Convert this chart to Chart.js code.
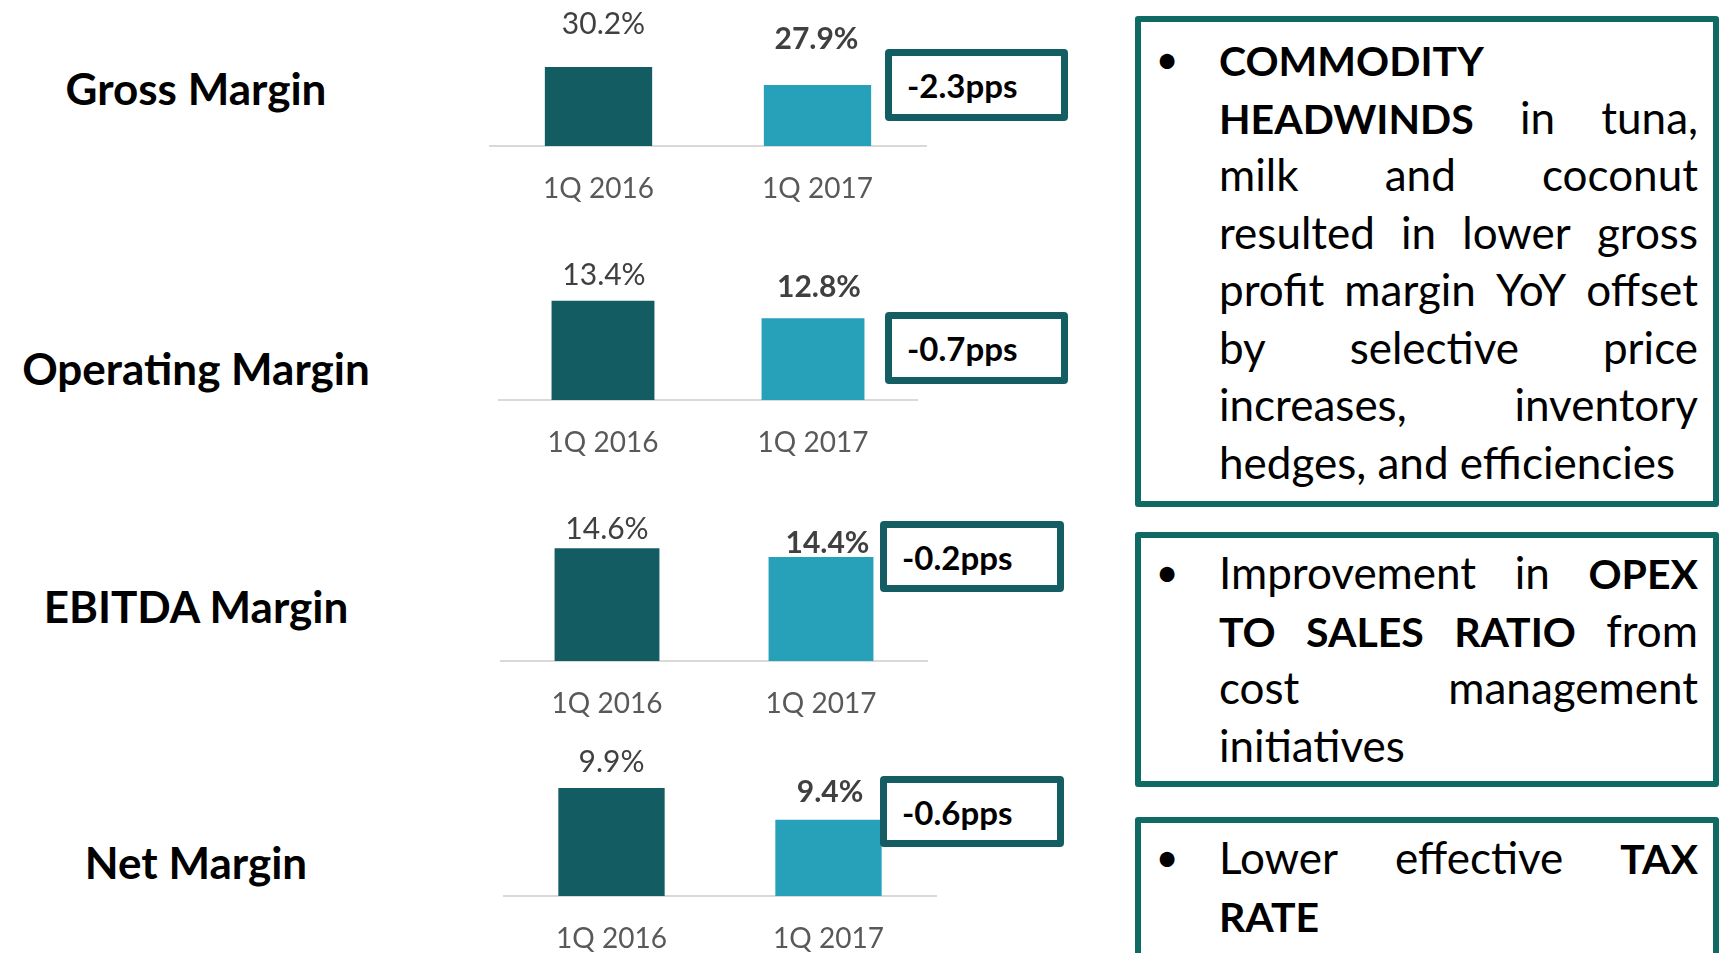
<!DOCTYPE html>
<html>
<head>
<meta charset="utf-8">
<script src="https://cdn.jsdelivr.net/npm/chart.js@4.4.0/dist/chart.umd.min.js"></script>
<style>
  body { margin: 0; width: 1719px; height: 953px; background: #fff; overflow: hidden; position: relative; font-family: Lato, sans-serif; }
  .title { position: absolute; left: 0; width: 392px; text-align: center; font-weight: bold; font-size: 44px; line-height: 1; color: #000; white-space: nowrap; }
  canvas.panel { position: absolute; }
  .pps { position: absolute; box-sizing: border-box; border: 7px solid #145e63; border-radius: 4px; background: #fff;
         font-weight: bold; font-size: 33px; color: #000; display: flex; align-items: center; padding-left: 15px; }
  .note { position: absolute; left: 1135px; width: 584px; box-sizing: border-box; border: 6px solid #0e6a62; border-radius: 3px; }
  .note .txt { position: absolute; left: 78px; width: 479px; font-size: 44px; line-height: 57.5px; color: #000; }
  .note b { font-size: 41px; }
  .note .bullet { position: absolute; left: -67px; width: 30px; text-align: center; font-size: 40px; }
  .note .jl { display: flex; justify-content: space-between; align-items: baseline; white-space: nowrap; position: relative; height: 57.5px; }
  .note .ll { white-space: nowrap; position: relative; height: 57.5px; }
</style>
</head>
<body>
<div id="titles"></div>
<div id="charts"></div>
<div id="boxes"></div>

<div class="note" style="top:16px; height:491px;">
  <div class="txt" style="top:9px;">
    <div class="ll"><span class="bullet">•</span><b>COMMODITY</b></div>
    <div class="jl"><b>HEADWINDS</b><span>in</span><span>tuna,</span></div>
    <div class="jl"><span>milk</span><span>and</span><span>coconut</span></div>
    <div class="jl"><span>resulted</span><span>in</span><span>lower</span><span>gross</span></div>
    <div class="jl"><span>profit</span><span>margin</span><span>YoY</span><span>offset</span></div>
    <div class="jl"><span>by</span><span>selective</span><span>price</span></div>
    <div class="jl"><span>increases,</span><span>inventory</span></div>
    <div class="ll">hedges, and efficiencies</div>
  </div>
</div>
<div class="note" style="top:532px; height:255px;">
  <div class="txt" style="top:6px;">
    <div class="jl"><span class="bullet">•</span><span>Improvement</span><span>in</span><b>OPEX</b></div>
    <div class="jl"><b>TO</b><b>SALES</b><b>RATIO</b><span>from</span></div>
    <div class="jl"><span>cost</span><span>management</span></div>
    <div class="ll">initiatives</div>
  </div>
</div>
<div class="note" style="top:817px; height:200px;">
  <div class="txt" style="top:6px;">
    <div class="jl"><span class="bullet">•</span><span>Lower</span><span>effective</span><b>TAX</b></div>
    <div class="ll"><b>RATE</b></div>
  </div>
</div>

<script>
const categories = ["1Q 2016", "1Q 2017"];
const panelNames = ["Gross Margin", "Operating Margin", "EBITDA Margin", "Net Margin"];
const margin2016 = [30.2, 13.4, 14.6, 9.9];
const margin2017 = [27.9, 12.8, 14.4, 9.4];
const changePps = [-2.3, -0.7, -0.2, -0.6];
const axisMin = [20, 10, 12, 8.2];
const axisMax = [35, 15, 15, 10.5];

const darkTeal = "#135c62";
const lightTeal = "#27a1b9";

// where each small chart sits on the page
const panels = [
  { left: 489, width: 438, top: 0,   padTop: 30, areaH: 116, dy: [43, 45.5], dx: [5, -1],  box: [885, 49, 183, 72],  titleTop: 66 },
  { left: 498, width: 420, top: 244, padTop: 10, areaH: 146, dy: [25, 31],   dx: [1, 6],   box: [885, 312, 183, 72], titleTop: 346 },
  { left: 500, width: 428, top: 506, padTop: 25, areaH: 130, dy: [19, 14],   dx: [0, 6.5], box: [880, 521, 184, 71], titleTop: 584 },
  { left: 503, width: 434, top: 730, padTop: 20, areaH: 146, dy: [26, 27],   dx: [0, 1.5], box: [880, 776, 184, 71], titleTop: 840 }
];

const tickPad = 25;
const tickLine = 35;

const valueLabels = {
  id: "valueLabels",
  afterDatasetsDraw(chart, args, opts) {
    const ctx = chart.ctx;
    const meta = chart.getDatasetMeta(0);
    const ds = chart.data.datasets[0];
    ctx.save();
    ctx.textAlign = "center";
    ctx.textBaseline = "middle";
    ctx.fillStyle = "#404040";
    meta.data.forEach((bar, i) => {
      ctx.font = (i == 1 ? "bold " : "") + "30px Lato";
      ctx.fillText(ds.data[i].toFixed(1) + "%", bar.x + opts.dx[i], bar.y - opts.dy[i]);
    });
    ctx.restore();
  }
};

for (let k = 0; k < panels.length; k++) {
  const p = panels[k];

  const t = document.createElement("div");
  t.className = "title";
  t.style.top = p.titleTop + "px";
  t.textContent = panelNames[k];
  document.getElementById("titles").appendChild(t);

  const b = document.createElement("div");
  b.className = "pps";
  b.style.left = p.box[0] + "px";
  b.style.top = p.box[1] + "px";
  b.style.width = p.box[2] + "px";
  b.style.height = p.box[3] + "px";
  b.textContent = changePps[k].toFixed(1) + "pps";
  document.getElementById("boxes").appendChild(b);

  // the x axis takes label height plus padding on both sides
  const cv = document.createElement("canvas");
  cv.className = "panel";
  cv.width = p.width;
  cv.height = p.padTop + p.areaH + 2 * tickPad + tickLine;
  cv.style.left = p.left + "px";
  cv.style.top = p.top + "px";
  document.getElementById("charts").appendChild(cv);

  new Chart(cv, {
    type: "bar",
    data: {
      labels: categories,
      datasets: [{
        data: [margin2016[k], margin2017[k]],
        backgroundColor: [darkTeal, lightTeal],
        barPercentage: 0.49,
        categoryPercentage: 1.0
      }]
    },
    options: {
      responsive: false,
      animation: false,
      layout: { padding: { top: p.padTop, left: 0, right: 0, bottom: 0 } },
      scales: {
        x: {
          grid: { display: false, drawTicks: false },
          border: { display: true, color: "#d9d9d9", width: 2 },
          ticks: { color: "#595959", padding: tickPad, font: { family: "Lato", size: 28, lineHeight: tickLine / 28 } }
        },
        y: { display: false, min: axisMin[k], max: axisMax[k] }
      },
      plugins: {
        legend: { display: false },
        tooltip: { enabled: false },
        valueLabels: { dx: p.dx, dy: p.dy }
      }
    },
    plugins: [valueLabels]
  });
}
</script>
</body>
</html>
